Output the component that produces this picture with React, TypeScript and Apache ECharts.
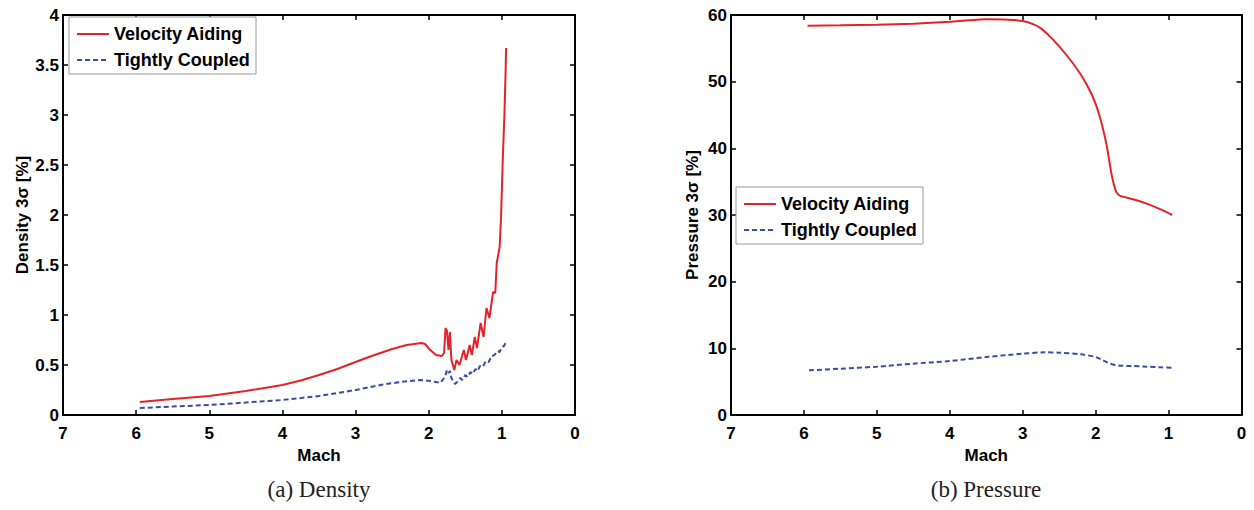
import React, { useEffect, useRef } from "react";
import * as echarts from "echarts";

// ---------- Data ----------
const machTicks = [0, 1, 2, 3, 4, 5, 6, 7];
const seriesNames = ["Velocity Aiding", "Tightly Coupled"];

// (a) Density, Velocity Aiding
const machDensityVA = [5.95, 5.5, 5.0, 4.5, 4.0, 3.75, 3.5, 3.25, 3.0, 2.8, 2.66, 2.5, 2.4, 2.3, 2.2, 2.1, 2.05, 1.98, 1.9, 1.82, 1.79, 1.77, 1.75, 1.73, 1.71, 1.69, 1.65, 1.62, 1.58, 1.52, 1.49, 1.44, 1.41, 1.37, 1.34, 1.29, 1.25, 1.21, 1.17, 1.12, 1.09, 1.07, 1.03, 1.01, 0.99, 0.965, 0.95, 0.942];
const densityVA = [0.13, 0.16, 0.19, 0.24, 0.3, 0.345, 0.4, 0.46, 0.53, 0.585, 0.62, 0.66, 0.68, 0.70, 0.71, 0.72, 0.71, 0.65, 0.6, 0.59, 0.62, 0.87, 0.84, 0.65, 0.83, 0.55, 0.45, 0.55, 0.5, 0.65, 0.55, 0.7, 0.6, 0.78, 0.67, 0.92, 0.78, 1.07, 0.97, 1.23, 1.22, 1.52, 1.68, 2.0, 2.5, 3.0, 3.4, 3.67];

// (a) Density, Tightly Coupled
const machDensityTC = [5.95, 5.5, 5.0, 4.5, 4.0, 3.5, 3.0, 2.66, 2.39, 2.12, 1.98, 1.9, 1.84, 1.8, 1.77, 1.75, 1.73, 1.71, 1.69, 1.66, 1.64, 1.6, 1.57, 1.54, 1.5, 1.47, 1.43, 1.4, 1.36, 1.33, 1.3, 1.26, 1.22, 1.18, 1.14, 1.1, 1.06, 1.03, 1.0, 0.97, 0.945];
const densityTC = [0.07, 0.085, 0.1, 0.125, 0.15, 0.19, 0.25, 0.3, 0.33, 0.35, 0.34, 0.33, 0.32, 0.36, 0.4, 0.45, 0.42, 0.44, 0.37, 0.33, 0.31, 0.34, 0.37, 0.35, 0.4, 0.38, 0.43, 0.41, 0.46, 0.44, 0.49, 0.48, 0.54, 0.53, 0.59, 0.6, 0.64, 0.63, 0.68, 0.69, 0.73];

// (b) Pressure, Velocity Aiding
const machPressureVA = [5.95, 5.5, 5.0, 4.5, 4.0, 3.5, 3.2, 3.0, 2.85, 2.75, 2.6, 2.4, 2.2, 2.05, 1.95, 1.85, 1.78, 1.72, 1.67, 1.5, 1.3, 1.1, 0.95];
const pressureVA = [58.4, 58.45, 58.55, 58.7, 59.0, 59.35, 59.3, 59.1, 58.6, 58.0, 56.5, 54.0, 51.0, 48.0, 45.0, 40.5, 36.0, 33.5, 32.9, 32.4, 31.7, 30.8, 30.0];

// (b) Pressure, Tightly Coupled
const machPressureTC = [5.93, 5.5, 5.0, 4.5, 4.0, 3.5, 3.0, 2.7, 2.5, 2.2, 2.0, 1.9, 1.8, 1.67, 1.5, 1.3, 1.1, 0.95];
const pressureTC = [6.7, 6.95, 7.25, 7.7, 8.1, 8.7, 9.2, 9.4, 9.35, 9.1, 8.7, 8.2, 7.7, 7.4, 7.35, 7.25, 7.15, 7.1];

const captions = ["(a) Density", "(b) Pressure"];
const yNames = ["Density 3\u03c3 [%]", "Pressure 3\u03c3 [%]"];

const zip = (xs: number[], ys: number[]) => xs.map((x, i) => [x, ys[i]]);

const RED = "#e3232b";
const BLUE = "#3a4ca6";
const SANS = "'Liberation Sans', Arial, Helvetica, sans-serif";
const SERIF = "'Liberation Serif', 'Times New Roman', serif";

function makeX(gridIndex: number, position: string, labels: boolean) {
  return {
    type: "value",
    gridIndex,
    position,
    min: machTicks[0],
    max: machTicks[machTicks.length - 1],
    interval: 1,
    inverse: true,
    name: labels ? "Mach" : "",
    nameLocation: "middle",
    nameGap: 31,
    nameTextStyle: { fontFamily: SANS, fontWeight: "bold", fontSize: 17, color: "#000" },
    axisLine: { show: true, onZero: false, lineStyle: { color: "#000", width: 2 } },
    axisTick: { show: true, inside: true, length: 5, lineStyle: { color: "#000", width: 1.5 } },
    axisLabel: { show: labels, margin: 10, fontFamily: SANS, fontWeight: "bold", fontSize: 17, color: "#000" },
    splitLine: { show: false },
  };
}

function makeY(gridIndex: number, position: string, labels: boolean, max: number, interval: number, name: string) {
  return {
    type: "value",
    gridIndex,
    position,
    min: 0,
    max,
    interval,
    name: labels ? name : "",
    nameLocation: "middle",
    nameGap: 30,
    nameTextStyle: { fontFamily: SANS, fontWeight: "bold", fontSize: 17, color: "#000" },
    axisLine: { show: true, onZero: false, lineStyle: { color: "#000", width: 2 } },
    axisTick: { show: true, inside: true, length: 5, lineStyle: { color: "#000", width: 1.5 } },
    axisLabel: { show: labels, margin: 4, fontFamily: SANS, fontWeight: "bold", fontSize: 17, color: "#000" },
    splitLine: { show: false },
  };
}

function legendBox(bx: number, by: number) {
  const txt = (y: number, t: string) => ({
    type: "text",
    x: bx + 45,
    y,
    z: 101,
    style: { text: t, fontFamily: SANS, fontWeight: "bold", fontSize: 18, fill: "#000", textVerticalAlign: "middle" },
  });
  return {
    type: "group",
    z: 100,
    children: [
      { type: "rect", z: 100, shape: { x: bx, y: by, width: 187, height: 57 }, style: { fill: "#fff", stroke: "#999", lineWidth: 1 } },
      { type: "line", z: 101, shape: { x1: bx + 8, y1: by + 17, x2: bx + 40, y2: by + 17 }, style: { stroke: RED, lineWidth: 2 } },
      txt(by + 17, seriesNames[0]),
      { type: "line", z: 101, shape: { x1: bx + 8, y1: by + 43, x2: bx + 40, y2: by + 43 }, style: { stroke: BLUE, lineWidth: 2, lineDash: [5, 3] } },
      txt(by + 43, seriesNames[1]),
    ],
  };
}

export default function App() {
  const ref = useRef<HTMLDivElement>(null);
  useEffect(() => {
    if (!ref.current) return;
    const chart = echarts.init(ref.current, null, { renderer: "svg" });
    const redStyle = { color: RED, width: 2 };
    const blueStyle = { color: BLUE, width: 2, type: [5, 3] };
    chart.setOption({
      animation: false,
      backgroundColor: "#fff",
      grid: [
        { left: 63, top: 15, width: 512, height: 400 },
        { left: 731, top: 15, width: 510.5, height: 400 },
      ],
      xAxis: [makeX(0, "bottom", true), makeX(1, "bottom", true), makeX(0, "top", false), makeX(1, "top", false)],
      yAxis: [
        makeY(0, "left", true, 4, 0.5, yNames[0]),
        makeY(1, "left", true, 60, 10, yNames[1]),
        makeY(0, "right", false, 4, 0.5, ""),
        makeY(1, "right", false, 60, 10, ""),
      ],
      series: [
        { type: "line", name: seriesNames[0], xAxisIndex: 0, yAxisIndex: 0, data: zip(machDensityVA, densityVA), symbol: "none", lineStyle: redStyle, itemStyle: { color: RED }, z: 3 },
        { type: "line", name: seriesNames[1], xAxisIndex: 0, yAxisIndex: 0, data: zip(machDensityTC, densityTC), symbol: "none", lineStyle: blueStyle, itemStyle: { color: BLUE }, z: 2 },
        { type: "line", name: seriesNames[0], xAxisIndex: 1, yAxisIndex: 1, data: zip(machPressureVA, pressureVA), symbol: "none", smooth: 0.2, lineStyle: redStyle, itemStyle: { color: RED }, z: 3 },
        { type: "line", name: seriesNames[1], xAxisIndex: 1, yAxisIndex: 1, data: zip(machPressureTC, pressureTC), symbol: "none", smooth: 0.3, lineStyle: blueStyle, itemStyle: { color: BLUE }, z: 2 },
      ],
      graphic: [
        legendBox(69, 17),
        legendBox(736, 187),
        { type: "text", x: 319, y: 489, style: { text: captions[0], fontFamily: SERIF, fontSize: 23, fill: "#222", textAlign: "center", textVerticalAlign: "middle" } },
        { type: "text", x: 986, y: 489, style: { text: captions[1], fontFamily: SERIF, fontSize: 23, fill: "#222", textAlign: "center", textVerticalAlign: "middle" } },
      ],
    });
    return () => chart.dispose();
  }, []);
  return <div ref={ref} style={{ position: "fixed", left: 0, top: 0, width: 1254, height: 510 }} />;
}
